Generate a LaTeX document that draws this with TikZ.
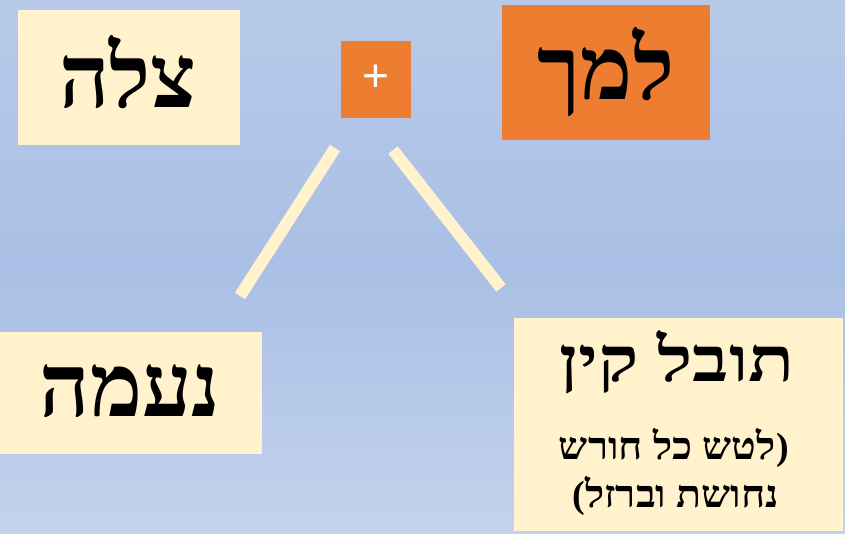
\documentclass[tikz,border=0pt]{standalone}
\usepackage{fontspec}
\TeXXeTstate=1
\setmainfont{Liberation Sans}
\newfontfamily\heb[Script=Hebrew]{Liberation Serif}
\newfontfamily\hebwide[Script=Hebrew,FakeStretch=1.22]{Liberation Serif}
\newfontfamily\hebmid[Script=Hebrew,FakeStretch=1.08]{Liberation Serif}
\newfontfamily\parfont{Liberation Serif}
\definecolor{cream}{HTML}{FFF2CC}
\definecolor{orng}{HTML}{ED7D31}
\definecolor{bgtop}{HTML}{B8CAE9}
\definecolor{bgmid}{HTML}{AABFE5}
\definecolor{bgbot}{HTML}{C3D3EE}
\tikzset{
  link/.style={draw=cream, line width=12pt},
  big/.style={font=\heb\bfseries\fontsize{88}{90}\selectfont, inner sep=0pt},
  small/.style={font=\hebmid\bfseries\fontsize{38}{48}\selectfont, inner sep=0pt},
  paren/.style={font=\parfont\bfseries\fontsize{38}{48}\selectfont, inner sep=0pt},
}
\begin{document}
\begin{tikzpicture}[x=1pt,y=-1pt]
\useasboundingbox (0,0) rectangle (845,534);
\shade[top color=bgtop, bottom color=bgbot, middle color=bgmid] (0,0) rectangle (845,534);
% boxes
\fill[cream] (18,10) rectangle (240,145);
\node[big] (tsila) at (128,72) {\beginR צלה\endR};
\fill[orng] (341,41) rectangle (411,118);
\node[text=white, font=\fontsize{46}{48}\selectfont, inner sep=0pt] (plus) at (376,78) {+};
\fill[orng] (502,5) rectangle (710,140);
\node[big] (lamech) at (606,72) {\beginR למך\endR};
\fill[cream] (0,332) rectangle (262,454);
\node[big] (naama) at (130,391) {\beginR נעמה\endR};
\fill[cream] (514,318) rectangle (843,531);
\node[font=\hebwide\bfseries\fontsize{62}{64}\selectfont, inner sep=0pt] (tuval) at (677,362) {\beginR תובל קין\endR};
\node[small, anchor=base east] (d1) at (776,459) {\beginR לטש כל חורש\endR};
\node[paren, anchor=base west] (p1) at (d1.base east) {)};
\node[small, anchor=base west] (d2) at (585,507) {\beginR נחושת וברזל\endR};
\node[paren, anchor=base east] (p2) at (d2.base west) {(};
% connectors
\coordinate (l1) at (335,148);
\coordinate (l2) at (240,296);
\coordinate (r1) at (393,150);
\coordinate (r2) at (501,288);
\draw[link] (l1) -- (l2);
\draw[link] (r1) -- (r2);
\end{tikzpicture}
\end{document}
